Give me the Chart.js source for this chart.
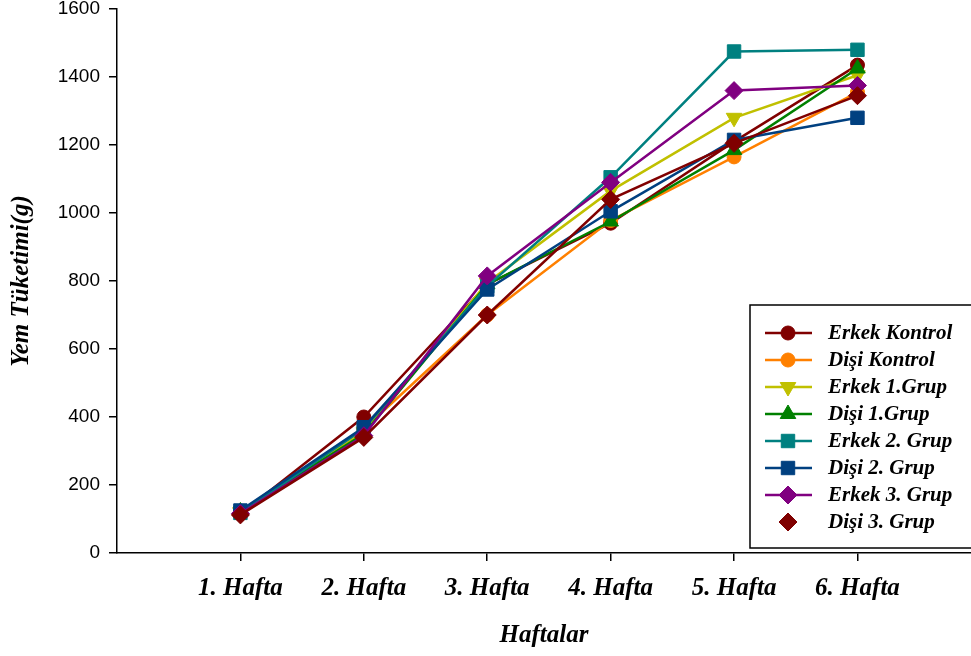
<!DOCTYPE html>
<html>
<head>
<meta charset="utf-8">
<script src="https://cdn.jsdelivr.net/npm/chart.js@4/dist/chart.umd.min.js"></script>
<style>
  html, body { margin: 0; padding: 0; background: #fff; overflow: hidden; }
  canvas { display: block; }
</style>
</head>
<body>
<canvas id="c" width="971" height="656"></canvas>
<script>
// Weekly feed consumption (g) per group
const weeks = ['1. Hafta', '2. Hafta', '3. Hafta', '4. Hafta', '5. Hafta', '6. Hafta'];
const yTicks = [0, 200, 400, 600, 800, 1000, 1200, 1400, 1600];

const erkekKontrol = [115, 400, 790, 970, 1210, 1435];
const disiKontrol  = [118, 365, 700, 978, 1165, 1355];
const erkek1Grup   = [120, 355, 795, 1065, 1280, 1405];
const disi1Grup    = [122, 350, 790, 975, 1185, 1425];
const erkek2Grup   = [118, 365, 785, 1105, 1475, 1480];
const disi2Grup    = [125, 370, 775, 1005, 1215, 1280];
const erkek3Grup   = [116, 345, 815, 1090, 1360, 1375];
const disi3Grup    = [112, 340, 700, 1040, 1205, 1345];

const seriesNames = ['Erkek Kontrol', 'Dişi Kontrol', 'Erkek 1.Grup', 'Dişi 1.Grup',
                     'Erkek 2. Grup', 'Dişi 2. Grup', 'Erkek 3. Grup', 'Dişi 3. Grup'];
const seriesValues = [erkekKontrol, disiKontrol, erkek1Grup, disi1Grup,
                      erkek2Grup, disi2Grup, erkek3Grup, disi3Grup];

// Marker and line styles for each series
const styles = [
  { color: '#800000', point: 'circle',   rot: 0,   r: 7,   legendLine: true },
  { color: '#FF8000', point: 'circle',   rot: 0,   r: 7,   legendLine: true },
  { color: '#C0C000', point: 'triangle', rot: 180, r: 9,   legendLine: true },
  { color: '#008000', point: 'triangle', rot: 0,   r: 9,   legendLine: true },
  { color: '#008080', point: 'rect',     rot: 0,   r: 9.5, legendLine: true },
  { color: '#004080', point: 'rect',     rot: 0,   r: 9.5, legendLine: true },
  { color: '#800080', point: 'rectRot',  rot: 0,   r: 9,   legendLine: true },
  { color: '#800000', point: 'rectRot',  rot: 0,   r: 9,   legendLine: false }
];

const datasets = seriesValues.map((vals, i) => ({
  label: seriesNames[i],
  data: vals.map((v, k) => ({ x: k + 1, y: v })),
  borderColor: styles[i].color,
  backgroundColor: styles[i].color,
  borderWidth: 2.5,
  pointStyle: styles[i].point,
  pointRotation: styles[i].rot,
  pointRadius: styles[i].r,
  pointBorderWidth: 1,
  pointBorderColor: styles[i].color,
  pointBackgroundColor: styles[i].color,
  tension: 0,
  fill: false,
  order: seriesNames.length - i
}));

const serifBI = { family: '"Liberation Serif", "Times New Roman", serif', weight: 'bold', style: 'italic' };

// Boxed legend with line + marker samples
const boxLegend = {
  id: 'boxLegend',
  afterDraw(chart) {
    const ctx = chart.ctx;
    const x0 = 750, y0 = 305, x1 = 980, y1 = 548;
    ctx.save();
    ctx.fillStyle = '#fff';
    ctx.fillRect(x0, y0, x1 - x0, y1 - y0);
    ctx.strokeStyle = '#000';
    ctx.lineWidth = 1.5;
    ctx.strokeRect(x0, y0, x1 - x0, y1 - y0);
    ctx.font = 'italic bold 21px "Liberation Serif", "Times New Roman", serif';
    ctx.textBaseline = 'middle';
    ctx.textAlign = 'left';
    seriesNames.forEach((name, i) => {
      const y = 333 + i * 27;
      const s = styles[i];
      if (s.legendLine) {
        ctx.strokeStyle = s.color;
        ctx.lineWidth = 2.5;
        ctx.beginPath();
        ctx.moveTo(765, y);
        ctx.lineTo(812, y);
        ctx.stroke();
      }
      ctx.fillStyle = s.color;
      ctx.strokeStyle = s.color;
      ctx.lineWidth = 1;
      Chart.helpers.drawPoint(ctx, { pointStyle: s.point, rotation: s.rot, radius: s.r, borderWidth: 1 }, 788, y);
      ctx.fillStyle = '#000';
      ctx.fillText(name, 828, y + 1);
    });
    ctx.restore();
  }
};

new Chart(document.getElementById('c'), {
  type: 'line',
  data: { datasets },
  plugins: [boxLegend],
  options: {
    responsive: false,
    animation: false,
    layout: { autoPadding: false, padding: { top: 9, right: 0, bottom: 0, left: 0 } },
    plugins: { legend: { display: false }, tooltip: { enabled: false } },
    scales: {
      x: {
        type: 'linear',
        min: 0,
        max: 6.92,
        afterBuildTicks(scale) { scale.ticks = weeks.map((w, i) => ({ value: i + 1 })); },
        afterFit(scale) {
          scale.height = 103;
          scale.paddingLeft = 0;
          scale.paddingRight = 0;
        },
        ticks: {
          autoSkip: false,
          maxRotation: 0,
          padding: 13,
          color: '#000',
          font: Object.assign({ size: 25 }, serifBI),
          callback: (v) => weeks[v - 1] || ''
        },
        grid: { drawOnChartArea: false, drawTicks: true, tickLength: 8, color: '#000', lineWidth: 1.5 },
        border: { display: true, color: '#000', width: 1.5 },
        title: {
          display: true,
          text: 'Haftalar',
          color: '#000',
          font: Object.assign({ size: 25 }, serifBI),
          padding: 5
        }
      },
      y: {
        min: 0,
        max: 1600,
        afterBuildTicks(scale) { scale.ticks = yTicks.map(v => ({ value: v })); },
        afterFit(scale) {
          scale.width = 117;
          scale.paddingTop = 0;
          scale.paddingBottom = 0;
        },
        ticks: {
          padding: 9,
          color: '#000',
          font: { family: '"Liberation Sans", Arial, sans-serif', size: 19 },
          callback: (v) => String(v)
        },
        grid: { drawOnChartArea: false, drawTicks: true, tickLength: 8, color: '#000', lineWidth: 1.5 },
        border: { display: true, color: '#000', width: 1.5 },
        title: {
          display: true,
          text: 'Yem Tüketimi(g)',
          color: '#000',
          font: Object.assign({ size: 25 }, serifBI),
          padding: 7
        }
      }
    }
  }
});
</script>
</body>
</html>
